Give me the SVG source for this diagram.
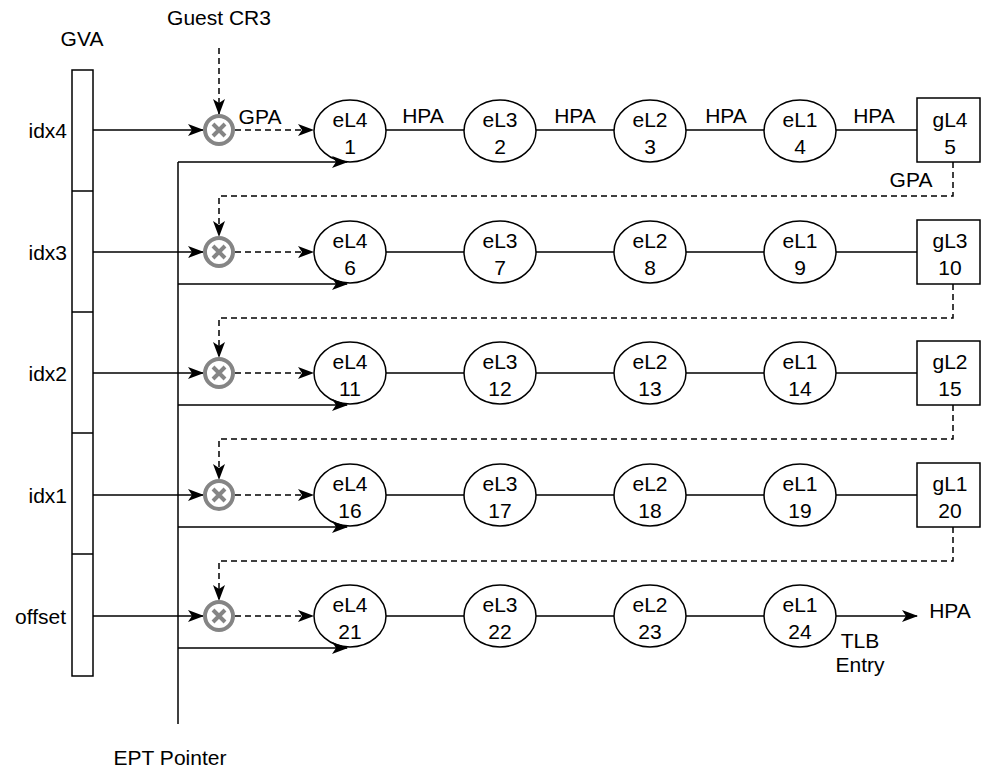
<svg xmlns="http://www.w3.org/2000/svg" width="981" height="771" viewBox="0 0 981 771">
<style>
text{font-family:"Liberation Sans",Arial,sans-serif;font-size:21px;fill:#000;text-anchor:middle}
.r{text-anchor:end}
.ln{stroke:#000;stroke-width:1.5;fill:none}
.da{stroke:#000;stroke-width:1.5;fill:none;stroke-dasharray:6,4}
.nd{stroke:#000;stroke-width:1.5;fill:#fff}
.ox{stroke:#858585;stroke-width:4;fill:#fff}
.oxl{stroke:#858585;stroke-width:4;fill:none}
</style>
<defs>
<marker id="ar" viewBox="0 0 16 12" refX="15" refY="6" markerWidth="16" markerHeight="12" markerUnits="userSpaceOnUse" orient="auto">
<path d="M0,0 L16,6 L0,12 L4,6 z" fill="#000"/>
</marker>
<g id="ox"><circle r="14" class="ox"/><path d="M-6,-6 L6,6 M-6,6 L6,-6" class="oxl"/></g>
</defs>
<text x="82" y="46">GVA</text>
<text x="219" y="25">Guest CR3</text>
<text x="170" y="765">EPT Pointer</text>
<g id="gva">
<rect x="72" y="70" width="21" height="606" class="nd"/>
<path d="M72,191 H93 M72,312 H93 M72,433 H93 M72,554 H93" class="ln"/>
<text class="r" x="67" y="138">idx4</text>
<text class="r" x="67" y="260">idx3</text>
<text class="r" x="67" y="381">idx2</text>
<text class="r" x="67" y="503">idx1</text>
<text class="r" x="66" y="624">offset</text>
</g>
<g id="connectors">
<path d="M178,162 V724" class="ln"/>
<path d="M219,48 V114" class="da" marker-end="url(#ar)"/>
<path d="M93,130 H203" class="ln" marker-end="url(#ar)"/>
<path d="M93,252 H203" class="ln" marker-end="url(#ar)"/>
<path d="M93,373 H203" class="ln" marker-end="url(#ar)"/>
<path d="M93,495 H203" class="ln" marker-end="url(#ar)"/>
<path d="M93,616 H203" class="ln" marker-end="url(#ar)"/>
<path d="M235,130 H313" class="da" marker-end="url(#ar)"/>
<path d="M235,252 H313" class="da" marker-end="url(#ar)"/>
<path d="M235,373 H313" class="da" marker-end="url(#ar)"/>
<path d="M235,495 H313" class="da" marker-end="url(#ar)"/>
<path d="M235,616 H313" class="da" marker-end="url(#ar)"/>
<path d="M386,130 H917 M386,252 H917 M386,373 H917 M386,495 H917 M386,616 H764" class="ln"/>
<path d="M836,616 H917" class="ln" marker-end="url(#ar)"/>
<path d="M953,162 V196 H219 V236" class="da" marker-end="url(#ar)"/>
<path d="M953,284 V318 H219 V357" class="da" marker-end="url(#ar)"/>
<path d="M953,405 V439 H219 V479" class="da" marker-end="url(#ar)"/>
<path d="M953,527 V561 H219 V600" class="da" marker-end="url(#ar)"/>
<text x="260" y="124">GPA</text>
<text x="423" y="123">HPA</text>
<text x="575" y="123">HPA</text>
<text x="726" y="123">HPA</text>
<text x="874" y="123">HPA</text>
<text x="911" y="187">GPA</text>
<text x="950" y="618">HPA</text>
<text x="860" y="648">TLB</text>
<text x="860" y="672">Entry</text>
</g>
<g id="mults">
<use href="#ox" x="219" y="130"/>
<use href="#ox" x="219" y="252"/>
<use href="#ox" x="219" y="373"/>
<use href="#ox" x="219" y="495"/>
<use href="#ox" x="219" y="616"/>
</g>
<g id="n1"><ellipse cx="350" cy="131" rx="36" ry="31" class="nd"/><text x="350" y="127">eL4</text><text x="350" y="154">1</text></g>
<g id="n2"><ellipse cx="500" cy="131" rx="36" ry="31" class="nd"/><text x="500" y="127">eL3</text><text x="500" y="154">2</text></g>
<g id="n3"><ellipse cx="650" cy="131" rx="36" ry="31" class="nd"/><text x="650" y="127">eL2</text><text x="650" y="154">3</text></g>
<g id="n4"><ellipse cx="800" cy="131" rx="36" ry="31" class="nd"/><text x="800" y="127">eL1</text><text x="800" y="154">4</text></g>
<g id="n5"><rect x="917" y="98" width="63" height="64" class="nd"/><text x="950" y="127">gL4</text><text x="950" y="154">5</text></g>
<g id="n6"><ellipse cx="350" cy="252" rx="36" ry="31" class="nd"/><text x="350" y="248">eL4</text><text x="350" y="275">6</text></g>
<g id="n7"><ellipse cx="500" cy="252" rx="36" ry="31" class="nd"/><text x="500" y="248">eL3</text><text x="500" y="275">7</text></g>
<g id="n8"><ellipse cx="650" cy="252" rx="36" ry="31" class="nd"/><text x="650" y="248">eL2</text><text x="650" y="275">8</text></g>
<g id="n9"><ellipse cx="800" cy="252" rx="36" ry="31" class="nd"/><text x="800" y="248">eL1</text><text x="800" y="275">9</text></g>
<g id="n10"><rect x="917" y="220" width="63" height="64" class="nd"/><text x="950" y="248">gL3</text><text x="950" y="275">10</text></g>
<g id="n11"><ellipse cx="350" cy="373" rx="36" ry="31" class="nd"/><text x="350" y="369">eL4</text><text x="350" y="396">11</text></g>
<g id="n12"><ellipse cx="500" cy="373" rx="36" ry="31" class="nd"/><text x="500" y="369">eL3</text><text x="500" y="396">12</text></g>
<g id="n13"><ellipse cx="650" cy="373" rx="36" ry="31" class="nd"/><text x="650" y="369">eL2</text><text x="650" y="396">13</text></g>
<g id="n14"><ellipse cx="800" cy="373" rx="36" ry="31" class="nd"/><text x="800" y="369">eL1</text><text x="800" y="396">14</text></g>
<g id="n15"><rect x="917" y="341" width="63" height="64" class="nd"/><text x="950" y="369">gL2</text><text x="950" y="396">15</text></g>
<g id="n16"><ellipse cx="350" cy="495" rx="36" ry="31" class="nd"/><text x="350" y="491">eL4</text><text x="350" y="518">16</text></g>
<g id="n17"><ellipse cx="500" cy="495" rx="36" ry="31" class="nd"/><text x="500" y="491">eL3</text><text x="500" y="518">17</text></g>
<g id="n18"><ellipse cx="650" cy="495" rx="36" ry="31" class="nd"/><text x="650" y="491">eL2</text><text x="650" y="518">18</text></g>
<g id="n19"><ellipse cx="800" cy="495" rx="36" ry="31" class="nd"/><text x="800" y="491">eL1</text><text x="800" y="518">19</text></g>
<g id="n20"><rect x="917" y="463" width="63" height="64" class="nd"/><text x="950" y="491">gL1</text><text x="950" y="518">20</text></g>
<g id="n21"><ellipse cx="350" cy="616" rx="36" ry="31" class="nd"/><text x="350" y="612">eL4</text><text x="350" y="639">21</text></g>
<g id="n22"><ellipse cx="500" cy="616" rx="36" ry="31" class="nd"/><text x="500" y="612">eL3</text><text x="500" y="639">22</text></g>
<g id="n23"><ellipse cx="650" cy="616" rx="36" ry="31" class="nd"/><text x="650" y="612">eL2</text><text x="650" y="639">23</text></g>
<g id="n24"><ellipse cx="800" cy="616" rx="36" ry="31" class="nd"/><text x="800" y="612">eL1</text><text x="800" y="639">24</text></g>
<g id="ept-arrows">
<path d="M178,162 H347" class="ln" marker-end="url(#ar)"/>
<path d="M178,284 H347" class="ln" marker-end="url(#ar)"/>
<path d="M178,405 H347" class="ln" marker-end="url(#ar)"/>
<path d="M178,527 H347" class="ln" marker-end="url(#ar)"/>
<path d="M178,648 H347" class="ln" marker-end="url(#ar)"/>
</g>
</svg>
